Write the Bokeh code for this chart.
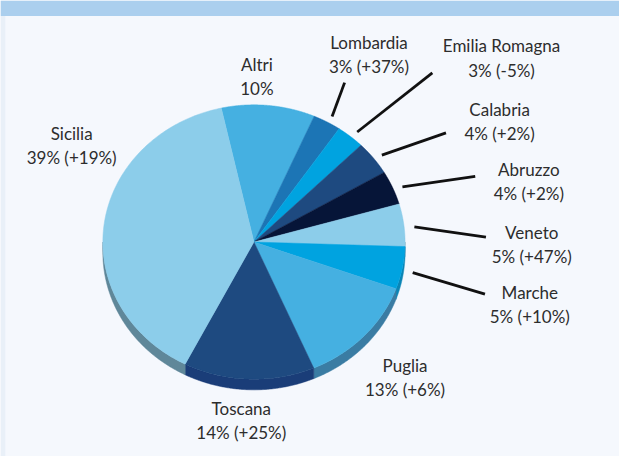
import numpy as np
from bokeh.plotting import figure
from bokeh.models import Range1d
from bokeh.core.properties import value
from bokeh.embed import file_html
from bokeh.resources import INLINE

# ---- data (clockwise from the top) ----
regions = ["Altri", "Lombardia", "Emilia Romagna", "Calabria", "Abruzzo",
           "Veneto", "Marche", "Puglia", "Toscana", "Sicilia"]
shares = [10, 3, 3, 4, 4, 5, 5, 13, 14, 39]
changes = [None, "+37%", "-5%", "+2%", "+2%", "+47%", "+10%", "+6%", "+25%", "+19%"]

# ---- styles ----
colors = ["#45b0e1", "#1c75b5", "#00a3e0", "#1e4a80", "#061538",
          "#8ccdea", "#00a3e0", "#45b0e1", "#1e4a80", "#8ccdea"]
side_colors = ["#367fa6", "#175a8a", "#0a7fb0", "#173a66", "#050f28",
               "#6a9fb8", "#0a85b5", "#3a7ca3", "#1a3d78", "#5f8799"]
# label centres (line 1), leader outer ends (None = no leader)
label_pos = [(263, 66), (378, 43), (514, 47), (512, 113), (542, 175),
             (545, 240), (543, 302), (415, 378), (247, 422), (73, 138)]
leader_out = [None, (353, 85), (443, 75), (457, 137), (487, 182),
              (498, 245), (497, 304), None, None, None]

W, H = 619, 456
CW, CH = 635, 472  # canvas units
cx, cy, rx, ry, depth = 260, 250, 155, 142, 11
start = 102.5

p = figure(width=W, height=H, x_range=Range1d(0, CW), y_range=Range1d(CH, 0),
           output_backend="svg", toolbar_location=None, min_border=0,
           x_axis_location=None, y_axis_location=None)
p.grid.visible = False
p.outline_line_color = None
p.background_fill_color = "#f5f8fd"
p.border_fill_color = "#f5f8fd"

# header band and left edge strip
p.quad(left=0, right=CW, top=0, bottom=16, color="#abcfee", line_color=None)
p.quad(left=0, right=5, top=16, bottom=CH, color="#e9f0f8", line_color=None)

def ex(t):
    return cx + rx * np.cos(np.radians(t))

def ey(t):
    return cy - ry * np.sin(np.radians(t))

cum = np.cumsum([0] + shares[:-1])
a_start = start - cum * 3.6
a_end = a_start - np.array(shares) * 3.6

# sides (3D depth)
sx, sy, sc = [], [], []
for i in range(len(shares)):
    lo, hi = max(a_end[i], -180), min(a_start[i], 0)
    if hi <= lo:
        continue
    t = np.linspace(lo, hi, 120)
    xs = np.concatenate([ex(t), ex(t[::-1])])
    ys = np.concatenate([ey(t), ey(t[::-1]) + depth])
    sx.append(xs); sy.append(ys); sc.append(side_colors[i])
p.patches(sx, sy, fill_color=sc, line_color=sc, line_width=0.5)

# top faces
tx, ty = [], []
for i in range(len(shares)):
    t = np.linspace(a_start[i], a_end[i], 150)
    tx.append(np.concatenate([[cx], ex(t)]))
    ty.append(np.concatenate([[cy], ey(t)]))
p.patches(tx, ty, fill_color=colors, line_color=colors, line_width=0.5)

# leaders
x0, y0, x1, y1 = [], [], [], []
for i in range(len(shares)):
    if leader_out[i] is None:
        continue
    mid = (a_start[i] + a_end[i]) / 2
    x0.append(cx + 1.07 * rx * np.cos(np.radians(mid)))
    y0.append(cy - 1.07 * ry * np.sin(np.radians(mid)) + 3)
    x1.append(leader_out[i][0]); y1.append(leader_out[i][1])
p.segment(x0, y0, x1, y1, line_color="#111111", line_width=2.8)

font = value("Lato")
l1 = regions
l2 = [f"{s}%" if c is None else f"{s}% ({c})" for s, c in zip(shares, changes)]
lx = [q[0] for q in label_pos]
ly = [q[1] for q in label_pos]
p.text(lx, ly, text=l1, text_align="center", text_baseline="middle",
       text_font=font, text_font_size="17px", text_color="#2d2d2d")
p.text(lx, [y + 25 for y in ly], text=l2, text_align="center", text_baseline="middle",
       text_font=font, text_font_size="17px", text_color="#2d2d2d")

open("out.html", "w").write(file_html(p, INLINE))
